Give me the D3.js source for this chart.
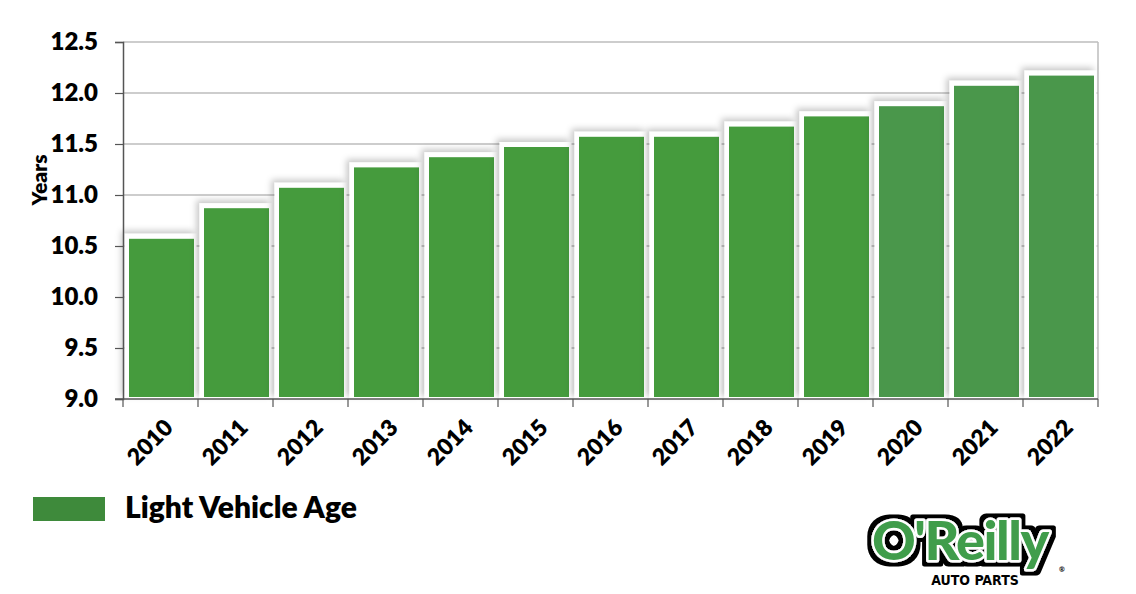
<!DOCTYPE html>
<html>
<head>
<meta charset="utf-8">
<script src="https://cdn.jsdelivr.net/npm/d3@7"></script>
<style>
  body { margin: 0; background: #fff; }
  text { font-family: Lato, "Open Sans", sans-serif; font-weight: 700; }
</style>
</head>
<body>
<div id="container"></div>
<script>
const years = ["2010", "2011", "2012", "2013", "2014", "2015", "2016", "2017", "2018", "2019", "2020", "2021", "2022"]
const ages = [10.6, 10.9, 11.1, 11.3, 11.4, 11.5, 11.6, 11.6, 11.7, 11.8, 11.9, 12.1, 12.2]
const yTicks = [9.0, 9.5, 10.0, 10.5, 11.0, 11.5, 12.0, 12.5]
const seriesName = "Light Vehicle Age"

const width = 1136, height = 594
const margin = { top: 42, right: 38, bottom: 195, left: 123 }

const svg = d3.select("#container").append("svg")
    .attr("width", width)
    .attr("height", height)

const defs = svg.append("defs")
defs.append("filter")
    .attr("id", "shadow")
    .attr("x", "-20%").attr("y", "-20%").attr("width", "140%").attr("height", "140%")
    .append("feDropShadow")
    .attr("dx", -3).attr("dy", -3)
    .attr("stdDeviation", 3)
    .attr("flood-color", "#000")
    .attr("flood-opacity", 0.22)

// black outline round the logo lettering
const outline = defs.append("filter")
    .attr("id", "outline")
    .attr("x", "-10%").attr("y", "-20%").attr("width", "120%").attr("height", "140%")
outline.append("feMorphology")
    .attr("in", "SourceAlpha").attr("operator", "dilate").attr("radius", 4).attr("result", "thick")
outline.append("feFlood").attr("flood-color", "#000").attr("result", "black")
outline.append("feComposite").attr("in", "black").attr("in2", "thick").attr("operator", "in").attr("result", "edge")
const merge = outline.append("feMerge")
merge.append("feMergeNode").attr("in", "edge")
merge.append("feMergeNode").attr("in", "SourceGraphic")

const x = d3.scaleBand()
    .domain(years)
    .range([margin.left, width - margin.right])

const y = d3.scaleLinear()
    .domain([9, 12.5])
    .range([height - margin.bottom, margin.top])

/********************* grid + frame ************************/

svg.append("g")
    .selectAll("line")
    .data(yTicks.slice(1))
    .enter().append("line")
    .attr("x1", margin.left).attr("x2", width - margin.right)
    .attr("y1", d => y(d)).attr("y2", d => y(d))
    .attr("stroke", "#bdbdbd")
    .attr("stroke-width", 1.5)

svg.append("line")
    .attr("x1", width - margin.right).attr("x2", width - margin.right)
    .attr("y1", y(12.5)).attr("y2", y(9))
    .attr("stroke", "#bdbdbd")
    .attr("stroke-width", 1.5)

/********************* bars ************************/

const bars = svg.append("g")
    .selectAll("g")
    .data(years.map((yr, i) => ({ year: yr, value: ages[i], i: i })))
    .enter().append("g")

bars.append("rect")
    .attr("x", d => x(d.year) + 1.5)
    .attr("y", d => y(d.value) - 2)
    .attr("width", x.bandwidth() - 3)
    .attr("height", d => y(9) - y(d.value) + 2)
    .attr("fill", "#fff")
    .attr("filter", "url(#shadow)")

bars.append("rect")
    .attr("x", d => x(d.year) + 6)
    .attr("y", d => y(d.value) + 3)
    .attr("width", x.bandwidth() - 10)
    .attr("height", d => y(9) - y(d.value) - 5)
    .attr("fill", d => d.i < 10 ? "#459b3d" : "#4a974b")

/********************* axes ************************/

const yAxis = svg.append("g")
    .attr("transform", `translate(${margin.left},0)`)
    .call(d3.axisLeft(y).tickValues(yTicks).tickFormat(d3.format(".1f")).tickSize(8).tickPadding(17))

yAxis.select(".domain").attr("stroke", "#555").attr("stroke-width", 1.5)
yAxis.selectAll(".tick line").attr("stroke", "#555").attr("stroke-width", 1.2)
yAxis.selectAll("text")
    .attr("font-size", 24)
    .attr("fill", "#000")
    .style("font-family", "Lato, sans-serif")
    .style("font-weight", 800)

const xAxis = svg.append("g")
    .attr("transform", `translate(0,${y(9)})`)

xAxis.append("line")
    .attr("x1", margin.left - 8).attr("x2", width - margin.right)
    .attr("stroke", "#555").attr("stroke-width", 1.5)

xAxis.selectAll(".xtick")
    .data(years.concat(["end"]))
    .enter().append("line")
    .attr("x1", (d, i) => i < years.length ? x(d) : x.range()[1])
    .attr("x2", (d, i) => i < years.length ? x(d) : x.range()[1])
    .attr("y1", 0).attr("y2", 8)
    .attr("stroke", "#555").attr("stroke-width", 1.2)

xAxis.selectAll(".xlabel")
    .data(years)
    .enter().append("text")
    .attr("transform", d => `translate(${x(d) + x.bandwidth() / 2 + 14},${30}) rotate(-45)`)
    .attr("text-anchor", "end")
    .attr("font-size", 23)
    .style("font-weight", 800)
    .attr("fill", "#000")
    .text(d => d)

svg.append("text")
    .attr("transform", `translate(47,${180}) rotate(-90)`)
    .attr("text-anchor", "middle")
    .attr("font-size", 21)
    .style("font-weight", 800)
    .text("Years")

/********************* legend ************************/

svg.append("rect")
    .attr("x", 33).attr("y", 497)
    .attr("width", 72).attr("height", 24)
    .attr("fill", "#3e8a3b")

svg.append("text")
    .attr("x", 125).attr("y", 518)
    .attr("font-size", 30)
    .style("font-weight", 800)
    .text(seriesName)

/********************* logo ************************/

const logo = svg.append("g").attr("transform", "translate(872,560)")

logo.append("text")
    .attr("x", 0).attr("y", 0)
    .attr("font-size", 54)
    .attr("letter-spacing", -1.5)
    .style("font-weight", 900)
    .attr("fill", "#3f9d4c")
    .attr("stroke", "#fff")
    .attr("stroke-width", 5)
    .attr("stroke-linejoin", "round")
    .attr("paint-order", "stroke")
    .attr("filter", "url(#outline)")
    .text("O'Reilly")

logo.append("text")
    .attr("x", 103).attr("y", 25)
    .attr("text-anchor", "middle")
    .attr("font-size", 14)
    .style("font-family", "'DejaVu Sans Condensed', sans-serif")
    .style("font-weight", 700)
    .attr("fill", "#000")
    .text("AUTO PARTS")

logo.append("text")
    .attr("x", 187).attr("y", 12)
    .attr("font-size", 7)
    .text("®")
</script>
</body>
</html>
